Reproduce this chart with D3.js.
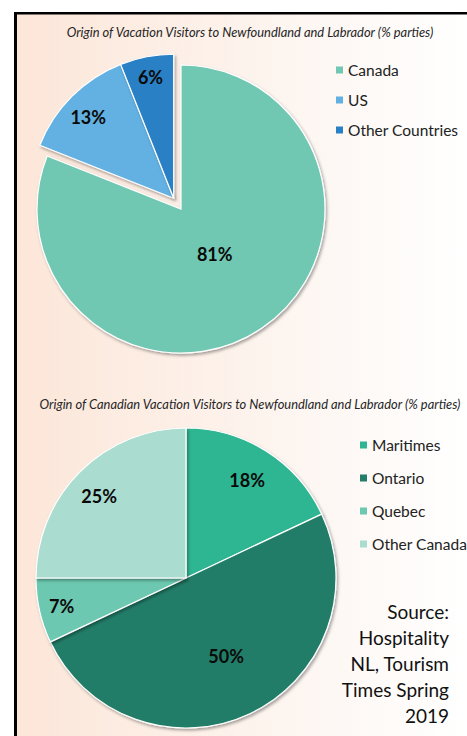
<!DOCTYPE html>
<html lang="en">
<head>
  <meta charset="UTF-8" />
  <title>Origin of Vacation Visitors to Newfoundland and Labrador</title>
  <style>
    body {
      margin: 0;
      background: #ffffff;
      font-family: Lato, "Open Sans", sans-serif;
    }
    svg { display: block; }
    .title {
      font-style: italic;
      font-size: 12.9px;
      fill: #262626;
    }
    .pct {
      font-size: 18px;
      font-weight: bold;
      fill: #0a0a0a;
    }
    .legend {
      font-size: 15.5px;
      fill: #222;
    }
    .source {
      font-size: 19px;
      fill: #111;
    }
  </style>
  <script src="https://d3js.org/d3.v7.min.js"></script>
</head>
<body>
  <svg id="canvas" width="467" height="736"></svg>

  <script>
    // top chart
    const originNames = ["Canada", "US", "Other Countries"];
    const originValues = [81, 13, 6];
    const originColors = ["#70c8b2", "#62b1e2", "#2a80c5"];
    const originExploded = [false, true, true];

    // bottom chart
    const canadaNames = ["Maritimes", "Ontario", "Quebec", "Other Canada"];
    const canadaValues = [18, 50, 7, 25];
    const canadaColors = ["#2fb592", "#237d67", "#6cc8b0", "#abdcd0"];

    const sourceLines = ["Source:", "Hospitality", "NL, Tourism", "Times Spring", "2019"];

    const svg = d3.select("#canvas");
    const defs = svg.append("defs");

    const grad = defs.append("linearGradient")
      .attr("id", "bg")
      .attr("x1", "0%").attr("x2", "100%")
      .attr("y1", "0%").attr("y2", "0%");
    grad.append("stop").attr("offset", "0%").attr("stop-color", "#fce6d8");
    grad.append("stop").attr("offset", "60%").attr("stop-color", "#fdf5f0");
    grad.append("stop").attr("offset", "100%").attr("stop-color", "#ffffff");

    const shadow = defs.append("filter")
      .attr("id", "shadow")
      .attr("x", "-10%").attr("y", "-10%")
      .attr("width", "120%").attr("height", "120%");
    shadow.append("feDropShadow")
      .attr("dx", 1.5).attr("dy", 2)
      .attr("stdDeviation", 1.5)
      .attr("flood-color", "#000")
      .attr("flood-opacity", 0.35);

    // panel background + black edges
    svg.append("rect")
      .attr("x", 14).attr("y", 12)
      .attr("width", 453).attr("height", 724)
      .attr("fill", "url(#bg)");
    svg.append("line")
      .attr("x1", 15.5).attr("x2", 15.5)
      .attr("y1", 12).attr("y2", 736)
      .attr("stroke", "#000").attr("stroke-width", 3);
    svg.append("line")
      .attr("x1", 14).attr("x2", 467)
      .attr("y1", 13.2).attr("y2", 13.2)
      .attr("stroke", "#000").attr("stroke-width", 2.5);

    const pie = d3.pie().sort(null).value(d => d);

    function drawPie(opts) {
      const arcs = pie(opts.values);
      const arc = d3.arc().innerRadius(0).outerRadius(opts.r);
      const g = svg.append("g")
        .attr("transform", `translate(${opts.cx},${opts.cy})`);

      // exploded slices move together along their shared bisector
      function offset(i) {
        if (!opts.exploded || !opts.exploded[i]) return [0, 0];
        const ex = arcs.filter((b, j) => opts.exploded[j]);
        const mid = (ex[0].startAngle + ex[ex.length - 1].endAngle) / 2;
        return [Math.sin(mid) * opts.explode, -Math.cos(mid) * opts.explode];
      }

      arcs.forEach((a, i) => {
        const [dx, dy] = offset(i);
        g.append("path")
          .attr("transform", `translate(${dx},${dy})`)
          .attr("d", arc(a))
          .attr("fill", opts.colors[i])
          .attr("stroke", "#fff")
          .attr("stroke-width", 1.2)
          .attr("filter", "url(#shadow)");
      });

      arcs.forEach((a, i) => {
        const [dx, dy] = offset(i);
        const lr = opts.r * opts.labelR[i];
        const la = d3.arc().innerRadius(lr).outerRadius(lr);
        const [x, y] = la.centroid(a);
        const sh = opts.labelShift[i];
        g.append("text")
          .attr("class", "pct")
          .attr("x", x + dx + sh[0])
          .attr("y", y + dy + sh[1])
          .attr("text-anchor", "middle")
          .attr("dominant-baseline", "central")
          .text(a.data + "%");
      });
    }

    function drawLegend(names, colors, x, y0, step) {
      const lg = svg.append("g");
      names.forEach((n, i) => {
        const y = y0 + i * step;
        lg.append("rect")
          .attr("x", x).attr("y", y - 3.5)
          .attr("width", 7).attr("height", 7)
          .attr("fill", colors[i]);
        lg.append("text")
          .attr("class", "legend")
          .attr("x", x + 12).attr("y", y)
          .attr("dominant-baseline", "central")
          .text(n);
      });
    }

    // top chart
    svg.append("text")
      .attr("class", "title")
      .attr("x", 250).attr("y", 37)
      .attr("text-anchor", "middle")
      .text("Origin of Vacation Visitors to Newfoundland and Labrador (% parties)");

    drawPie({
      values: originValues, colors: originColors,
      cx: 181, cy: 209, r: 144,
      exploded: originExploded, explode: 13,
      labelR: [0.38, 0.8, 0.86],
      labelShift: [[3, 0], [-4, 0], [0, 0]]
    });
    drawLegend(originNames, originColors, 336, 70, 30);

    // bottom chart
    svg.append("text")
      .attr("class", "title")
      .attr("x", 250).attr("y", 409)
      .attr("text-anchor", "middle")
      .text("Origin of Canadian Vacation Visitors to Newfoundland and Labrador (% parties)");

    drawPie({
      values: canadaValues, colors: canadaColors,
      cx: 186, cy: 578, r: 150,
      labelR: [0.76, 0.66, 0.85, 0.8],
      labelShift: [[0, -2], [-2, -12], [0, 0], [-2, 3]]
    });
    drawLegend(canadaNames, canadaColors, 360, 445, 33);

    svg.append("g").selectAll("text")
      .data(sourceLines)
      .join("text")
      .attr("class", "source")
      .attr("x", 449)
      .attr("y", (d, i) => 611 + i * 26)
      .attr("text-anchor", "end")
      .attr("dominant-baseline", "central")
      .text(d => d);
  </script>
</body>
</html>
